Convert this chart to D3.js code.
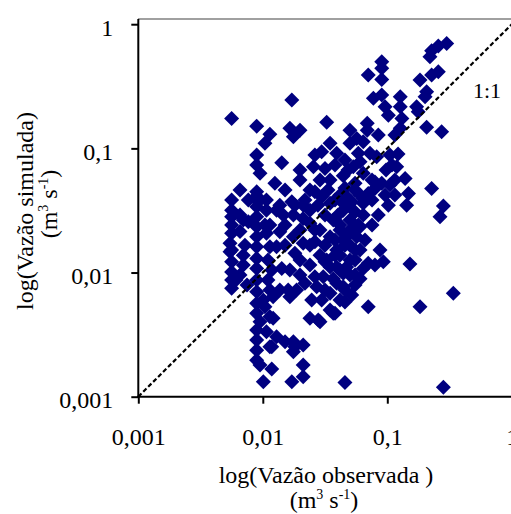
<!DOCTYPE html>
<html><head><meta charset="utf-8">
<script src="https://cdn.jsdelivr.net/npm/d3@7"></script>
<style>body{margin:0;background:#fff}svg{display:block}text{font-family:"Liberation Serif","Times New Roman","DejaVu Serif",serif;fill:#000}</style>
</head><body><svg id="c" width="511" height="514"></svg>
<script>
// Observed (x) and simulated (y) discharge, m3/s
const observed = [0.300,0.257,0.227,0.220,0.0902,0.0902,0.0703,0.0902,0.257,0.227,0.183,0.207,0.201,0.172,0.177,0.0171,0.00562,0.00893,0.0114,0.0104,0.0165,0.0199,0.0176,0.0326,0.0773,0.0902,0.0959,0.102,0.127,0.127,0.131,0.069,0.069,0.0501,0.0568,0.0641,0.0847,0.0501,0.207,0.273,0.115,0.127,0.0347,0.0297,0.0392,0.00893,0.00893,0.0095,0.0142,0.0255,0.0316,0.0443,0.0585,0.0604,0.0726,0.0533,0.0641,0.0822,0.105,0.122,0.119,0.139,0.0902,0.0796,0.0703,0.0641,0.227,0.148,0.143,0.282,0.0125,0.00893,0.00562,0.00765,0.0092,0.0107,0.0171,0.0211,0.0262,0.0297,0.0347,0.0443,0.0518,0.0129,0.0107,0.00893,0.00562,0.00562,0.00545,0.00545,0.00562,0.00562,0.00656,0.00562,0.00697,0.00765,0.00893,0.00893,0.00893,0.00893,0.00893,0.00893,0.00893,0.00893,0.00893,0.00893,0.0095,0.00893,0.00893,0.0095,0.0101,0.0107,0.0137,0.0129,0.0114,0.0142,0.0118,0.0114,0.0137,0.0160,0.0187,0.0121,0.0165,0.0114,0.0121,0.0107,0.0129,0.0118,0.0151,0.0176,0.0211,0.0176,0.0118,0.0211,0.0211,0.0171,0.0457,0.282,0.0176,0.0211,0.0239,0.0199,0.0176,0.0211,0.0262,0.0181,0.0262,0.0271,0.0247,0.0239,0.0288,0.0368,0.0518,0.0703,0.0326,0.0392,0.0443,0.0417,0.0501,0.0641,0.0604,0.0568,0.0501,0.0443,0.0392,0.0347,0.0443,0.0306,0.0347,0.0392,0.0472,0.0347,0.0368,0.0443,0.0501,0.0641,0.0874,0.0929,0.0703,0.152,0.265,0.339,0.183,0.0114,0.0181,0.0279,0.038,0.0347,0.0457,0.0551,0.0754,0.0977,0.109,0.0417,0.0316,0.0288,0.0551,0.0754,0.0959,0.105,0.0239,0.0288,0.038,0.0501,0.0604,0.0316,0.0551,0.0199,0.0151,0.00656,0.00656,0.00697,0.00609,0.0101,0.0114,0.0137,0.00656,0.0199,0.0151,
  0.0277,0.0334,0.0402,0.0483,0.0585,0.0662,0.0754,0.0847,0.102,0.115,0.115,0.0604,0.0483,0.038,0.0288,0.0239,0.0218,0.0262,0.0316,0.038,0.0417,0.0551,0.0641,0.0368,0.0316,0.0239,0.0199,0.0218,0.0297,0.0417,0.0347,0.0457,
  0.00562,0.00562,0.00562,0.00562,0.00697,0.00719,0.00747,0.00893,0.00893,0.00893,0.0104,0.0110,0.0104,0.0110,0.0146,0.0151,0.0165,0.0457,0.0262,0.0199,
  0.038,0.0457,0.0551,0.0796,0.0417,0.0501,0.0457,0.0551,0.0417,0.0501,0.0457,0.0551,0.0604,0.0796,0.0181,0.0239];
const simulated = [0.700,0.667,0.611,0.547,0.498,0.441,0.389,0.359,0.414,0.389,0.355,0.286,0.260,0.216,0.197,0.245,0.174,0.151,0.130,0.110,0.145,0.140,0.124,0.162,0.253,0.269,0.216,0.185,0.260,0.216,0.174,0.159,0.140,0.140,0.120,0.113,0.128,0.110,0.148,0.136,0.128,0.145,0.110,0.0939,0.0912,0.0883,0.0734,0.0629,0.0766,0.0711,0.069,0.0601,0.0912,0.078,0.0912,0.0711,0.0629,0.0855,0.0883,0.090,0.0711,0.0573,0.0523,0.0476,0.0434,0.0396,0.0476,0.0434,0.0349,0.0343,0.0523,0.0447,0.0383,0.0383,0.0372,0.0383,0.0372,0.0349,0.0447,0.0408,0.0361,0.0361,0.0372,0.0318,0.0318,0.0339,0.0241,0.0207,0.0172,0.0147,0.0122,0.0101,0.00955,0.00746,0.0138,0.0257,0.0281,0.0234,0.0194,0.0161,0.0130,0.0108,0.00871,0.0070,0.00565,0.00469,0.00402,0.00286,0.00197,0.0018,0.00132,0.0207,0.0213,0.0161,0.0161,0.0108,0.0105,0.00723,0.00723,0.00723,0.00723,0.00638,0.00638,0.00441,0.00428,0.00334,0.00304,0.00253,0.00277,0.00277,0.00261,0.0023,0.00167,0.0018,0.00145,0.00132,0.0013,0.00119,0.029,0.0273,0.0249,0.022,0.0194,0.0172,0.0177,0.0143,0.00925,0.00769,0.00601,0.00428,0.00402,0.00469,0.00659,0.00531,0.0126,0.0152,0.0183,0.022,0.0265,0.029,0.0234,0.0194,0.0126,0.00986,0.00818,0.0068,0.00769,0.00925,0.0111,0.0111,0.0111,0.0194,0.0265,0.0318,0.0361,0.0361,0.0152,0.0122,0.0119,0.0117,0.0281,0.0068,0.00531,0.00253,0.00253,0.00415,0.00469,0.0556,0.048,0.0523,0.0556,0.0668,0.0734,0.0421,0.029,0.022,0.0307,0.0383,0.0421,0.0506,0.0166,0.0138,0.0183,0.0166,0.0152,0.00723,0.00955,0.0126,0.0241,0.029,0.0214,0.0115,0.00871,0.00601,0.0241,0.0349,0.0461,0.0556,0.0461,
  0.0349,0.0461,0.029,0.0200,0.0241,0.0183,0.0241,0.029,0.0349,0.0556,0.0421,0.0421,0.0668,0.0734,0.0556,0.0461,0.0383,0.022,0.0166,0.0138,0.0105,0.0126,0.0108,0.0089,0.0122,0.0115,0.00955,0.00818,0.00601,0.00601,0.00499,0.0058,
  0.0318,0.0281,0.0152,0.00871,0.0265,0.0166,0.00793,0.0413,0.00344,0.00237,0.0241,0.0126,0.00531,0.00871,0.029,0.0166,0.0105,0.0805,0.0883,0.0668,
  0.0383,0.0421,0.0461,0.0535,0.0241,0.0220,0.0166,0.0152,0.0138,0.00955,0.00723,0.00793,0.0089,0.0115,0.0349,0.0318];
const tickValues = [0.001, 0.01, 0.1, 1];
const tickLabels = ["0,001", "0,01", "0,1", "1"];
const lineOneToOne = [0.001, 1];

const svg = d3.select("#c");
const x = d3.scaleLog().domain([0.001, 1]).range([138.3, 511.8]);
const y = d3.scaleLog().domain([0.001, 1]).range([396.7, 24.2]);

// frame top (gray)
svg.append("line").attr("x1", 138).attr("x2", 511).attr("y1", 19).attr("y2", 19)
  .attr("stroke", "#808080").attr("stroke-width", 1.6);

// points
const pts = observed.map((o, i) => [o, simulated[i]]);
svg.append("g").selectAll("path").data(pts).join("path")
  .attr("transform", d => `translate(${x(d[0])},${y(d[1])})`)
  .attr("d", "M0,-7.5L7.5,0L0,7.5L-7.5,0Z")
  .attr("fill", "#000080");

// 1:1 line
svg.append("line")
  .attr("x1", x(lineOneToOne[0])).attr("y1", y(lineOneToOne[0]))
  .attr("x2", x(lineOneToOne[1])).attr("y2", y(lineOneToOne[1]))
  .attr("stroke", "#000").attr("stroke-width", 2.2).attr("stroke-dasharray", "4.5,2.5");
svg.append("text").attr("x", 487).attr("y", 98).attr("text-anchor", "middle")
  .attr("font-size", 22).text("1:1");

// axes
const fmt = d => tickLabels[tickValues.indexOf(d)];
const yAxis = svg.append("g").attr("transform", "translate(138.3,0)")
  .call(d3.axisLeft(y).tickValues(tickValues).tickFormat(fmt).tickSize(7).tickPadding(18));
yAxis.attr("font-family", null);
yAxis.select(".domain").attr("d", "M0,19V397").attr("stroke-width", 2);
yAxis.selectAll(".tick line").attr("stroke-width", 2);
yAxis.selectAll("text").attr("font-size", 24).attr("dy", "0.45em");

const xAxis = svg.append("g").attr("transform", "translate(0,396.7)")
  .call(d3.axisBottom(x).tickValues(tickValues).tickFormat(fmt).tickSize(7).tickPadding(24));
xAxis.attr("font-family", null);
xAxis.select(".domain").attr("d", "M137,0H511").attr("stroke-width", 2);
xAxis.selectAll(".tick line").attr("stroke-width", 2);
xAxis.selectAll("text").attr("font-size", 24);

// axis titles
const xt = svg.append("text").attr("x", 326).attr("y", 483).attr("text-anchor", "middle").attr("font-size", 24);
xt.text("log(Vazão observada )");
const xt2 = svg.append("text").attr("x", 324).attr("y", 508).attr("text-anchor", "middle").attr("font-size", 24);
xt2.append("tspan").text("(m");
xt2.append("tspan").attr("font-size", 14).attr("dy", -9).text("3");
xt2.append("tspan").attr("dy", 9).text(" s");
xt2.append("tspan").attr("font-size", 14).attr("dy", -9).text("-1");
xt2.append("tspan").attr("dy", 9).text(")");

const yt = svg.append("text").attr("transform", "translate(33,211) rotate(-90)")
  .attr("text-anchor", "middle").attr("font-size", 24).text("log(Vazão simulada)");
const yt2 = svg.append("text").attr("transform", "translate(57,204) rotate(-90)")
  .attr("text-anchor", "middle").attr("font-size", 24);
yt2.append("tspan").text("(m");
yt2.append("tspan").attr("font-size", 14).attr("dy", -9).text("3");
yt2.append("tspan").attr("dy", 9).text(" s");
yt2.append("tspan").attr("font-size", 14).attr("dy", -9).text("-1");
yt2.append("tspan").attr("dy", 9).text(")");
</script></body></html>
